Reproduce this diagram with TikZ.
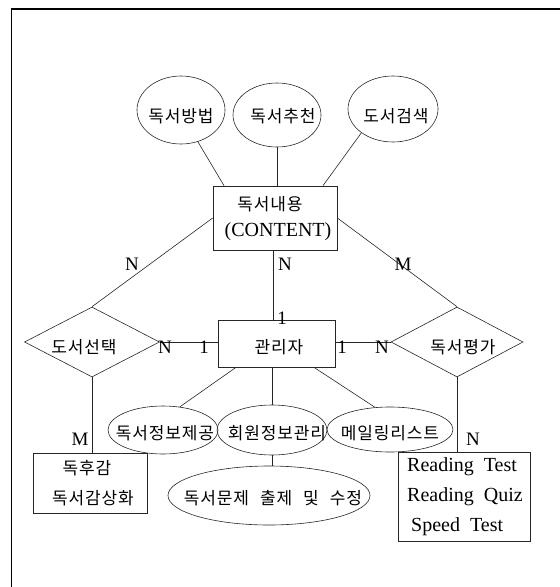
\documentclass[tikz,border=0pt]{standalone}
\usepackage{fontspec}
\setmainfont{Liberation Serif}
\newfontfamily\kr[LetterSpace=5]{Noto Sans CJK KR}
\usetikzlibrary{shapes.geometric}
\tikzset{
  ln/.style={draw=black!85, line width=0.6pt},
  ell/.style={draw=black!85, line width=0.6pt, ellipse, inner sep=0pt},
  boxx/.style={draw=black!85, line width=0.7pt, rectangle, inner sep=0pt},
  dia/.style={draw=black!85, line width=0.6pt, diamond, inner sep=0pt},
  kt/.style={font=\kr\fontsize{17}{19}\selectfont, inner sep=0pt, text=black},
  lt/.style={font=\fontsize{20}{22}\selectfont, inner sep=0pt, text=black},
  lab/.style={font=\fontsize{19}{21}\selectfont, inner sep=0pt, text=black}
}
\begin{document}
\begin{tikzpicture}[x=1pt,y=-1pt]
\useasboundingbox (0,0) rectangle (560,587);
% frame
\draw[line width=1.2pt] (11.5,587) -- (11.5,9) -- (560,9);

% top attribute ellipses
\node[ell, minimum width=88, minimum height=68] (m1) at (181,110) {};
\node[ell, minimum width=88, minimum height=64] (m2) at (277,115) {};
\node[ell, minimum width=90, minimum height=66] (m3) at (393,109) {};
\node[kt] (tm1) at (181,116) {독서방법};
\node[kt] (tm2) at (283,116) {독서추천};
\node[kt] (tm3) at (396,116) {도서검색};

% content entity
\node[boxx, minimum width=124, minimum height=64] (content) at (275,218) {};
\node[kt] (tc1) at (270,204) {독서내용};
\node[lt] (tc2) at (278,232) {(CONTENT)};

% admin entity
\node[boxx, minimum width=117, minimum height=47] (admin) at (276.5,343.5) {};
\node[kt] (ta) at (279,347) {관리자};

% relationships
\node[dia, minimum width=135, minimum height=70] (d1) at (92,342) {};
\node[kt] (td1) at (84,347) {도서선택};
\node[dia, minimum width=132, minimum height=70] (d2) at (457,342) {};
\node[kt] (td2) at (463,347) {독서평가};

% lower ellipses
\node[ell, minimum width=110, minimum height=48] (e1) at (163,430) {};
\node[ell, minimum width=110, minimum height=50] (e2) at (272,430) {};
\node[ell, minimum width=126, minimum height=45] (e3) at (390,429.5) {};
\node[ell, minimum width=202, minimum height=59] (e4) at (269,495.5) {};
\node[kt] (te1) at (165,433) {독서정보제공};
\node[kt] (te2) at (277,433) {회원정보관리};
\node[kt] (te3) at (390,433) {메일링리스트};
\node[kt] (te4) at (273,498) {독서문제\hspace{11pt}출제\hspace{11pt}및\hspace{11pt}수정};

% bottom boxes
\node[boxx, minimum width=114, minimum height=60] (b1) at (90,483) {};
\node[kt] (tb1) at (87,468) {독후감};
\node[kt] (tb2) at (93,498) {독서감상화};
\node[boxx, minimum width=132, minimum height=89] (b2) at (464.5,496.5) {};
\node[lt, anchor=west] (tr1) at (407,467) {Reading\hspace{0.5em}Test};
\node[lt, anchor=west] (tr2) at (407,497) {Reading\hspace{0.5em}Quiz};
\node[lt, anchor=west] (tr3) at (411,527) {Speed\hspace{0.5em}Test};

% connectors
\draw[ln] (m1.-62) -- ([xshift=-51]content.north);
\draw[ln] (m2.south) -- (m2.south |- content.north);
\draw[ln] (m3.-143) -- ([xshift=48]content.north);
\draw[ln] (content.west) -- (d1.north);
\draw[ln] (content.east) -- (d2.north);
\draw[ln] ([xshift=-2]content.south) -- ([xshift=-2]content.south |- admin.north);
\draw[ln] (d1.east) -- (d1.east -| admin.west);
\draw[ln] (d2.west -| admin.east) -- (d2.west);
\draw[ln] ([xshift=-40.5]admin.south) -- (e1.54);
\draw[ln] (e2.north |- admin.south) -- (e2.north);
\draw[ln] ([xshift=37.5]admin.south) -- (e3.124);
\draw[ln] (e2.south) -- (e2.south |- e4.north);
\draw[ln] (d1.south) -- (d1.south |- b1.north);
\draw[ln] (d2.south) -- (d2.south |- b2.north);

% cardinality labels
\node[lab] (c1) at (132,264) {N};
\node[lab] (c2) at (285,264) {N};
\node[lab] (c3) at (403,264) {M};
\node[lab] (c4) at (282,318) {1};
\node[lab] (c5) at (165,347) {N};
\node[lab] (c6) at (204,347) {1};
\node[lab] (c7) at (342,347) {1};
\node[lab] (c8) at (382,347) {N};
\node[lab] (c9) at (80,439) {M};
\node[lab] (c10) at (473,439) {N};
\end{tikzpicture}
\end{document}
